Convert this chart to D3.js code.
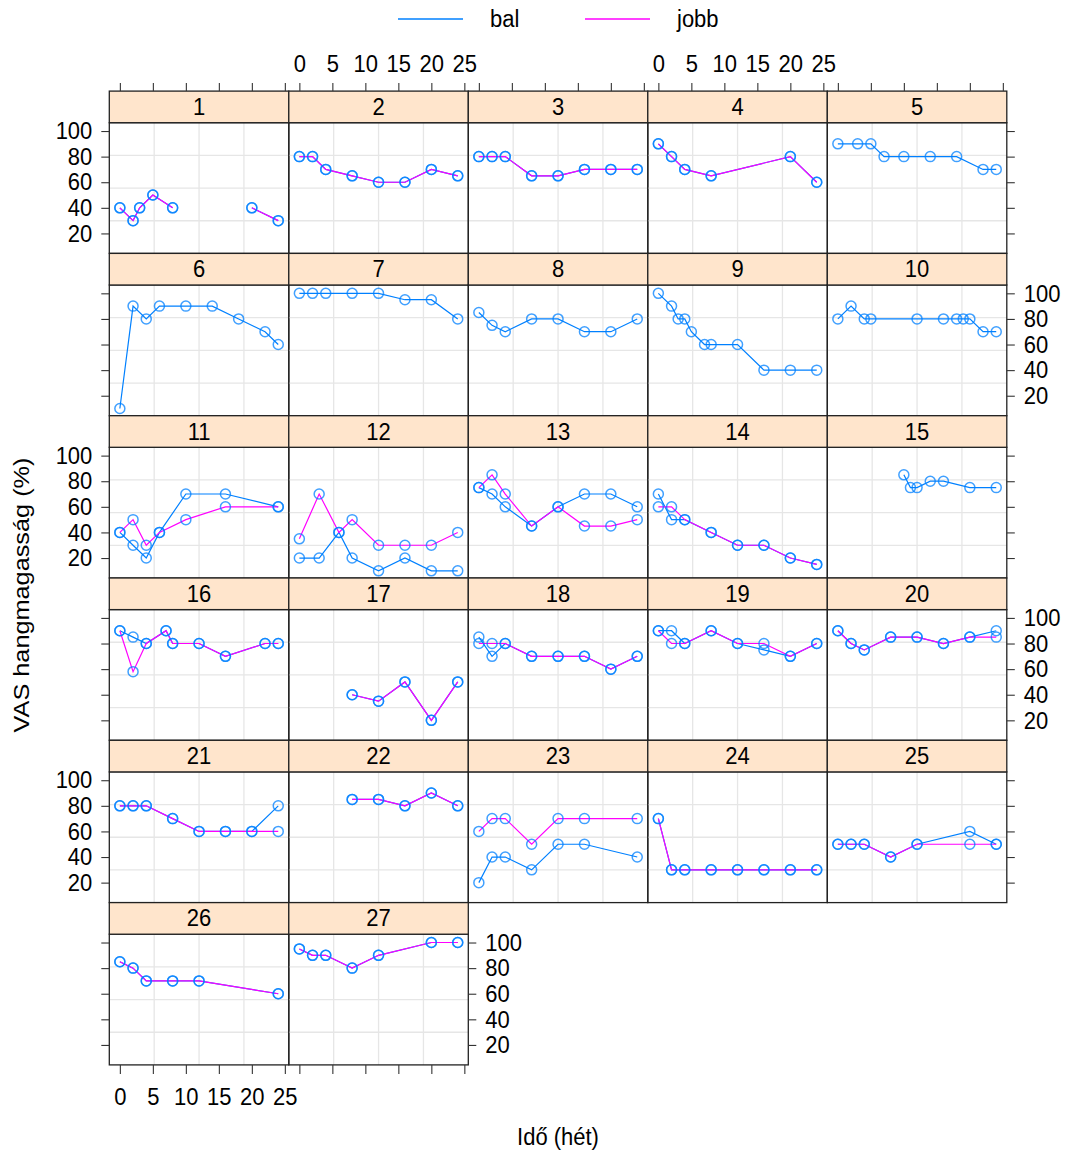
<!DOCTYPE html>
<html>
<head>
<meta charset="utf-8">
<script src="https://cdn.jsdelivr.net/npm/d3@7"></script>
<style>
  body { margin: 0; background: #fff; }
  svg text { font-family: "Liberation Sans", Arial, sans-serif; fill: #000; }
</style>
</head>
<body>
<svg id="chart" width="1072" height="1154"></svg>
<script>
// Panel ids (patients) and measurement times in weeks
var panels = d3.range(1, 28);

var weeks = [
  [0, 2, 3, 5, 8, 12, 20, 24],
  [0, 2, 4, 8, 12, 16, 20, 24],
  [0, 2, 4, 8, 12, 16, 20, 24],
  [0, 2, 4, 8, 20, 24],
  [0, 3, 5, 7, 10, 14, 18, 22, 24],
  [0, 2, 4, 6, 10, 14, 18, 22, 24],
  [0, 2, 4, 8, 12, 16, 20, 24],
  [0, 2, 4, 8, 12, 16, 20, 24],
  [0, 2, 3, 4, 5, 7, 8, 12, 16, 20, 24],
  [0, 2, 4, 5, 12, 16, 18, 19, 20, 22, 24],
  [0, 2, 4, 6, 10, 16, 24],
  [0, 3, 6, 8, 12, 16, 20, 24],
  [0, 2, 4, 8, 12, 16, 20, 24],
  [0, 2, 4, 8, 12, 16, 20, 24],
  [10, 11, 12, 14, 16, 20, 24],
  [0, 2, 4, 7, 8, 12, 16, 22, 24],
  [8, 12, 16, 20, 24],
  [0, 2, 4, 8, 12, 16, 20, 24],
  [0, 2, 4, 8, 12, 16, 20, 24],
  [0, 2, 4, 8, 12, 16, 20, 24],
  [0, 2, 4, 8, 12, 16, 20, 24],
  [8, 12, 16, 20, 24],
  [0, 2, 4, 8, 12, 16, 24],
  [0, 2, 4, 8, 12, 16, 20, 24],
  [0, 2, 4, 8, 12, 20, 24],
  [0, 2, 4, 8, 12, 24],
  [0, 2, 4, 8, 12, 20, 24]
];

// VAS values, left side ("bal"); null = no measurement
var balValues = [
  [40, 30, 40, 50, 40, null, 40, 30],
  [80, 80, 70, 65, 60, 60, 70, 65],
  [80, 80, 80, 65, 65, 70, 70, 70],
  [90, 80, 70, 65, 80, 60],
  [90, 90, 90, 80, 80, 80, 80, 70, 70],
  [10, 90, 80, 90, 90, 90, 80, 70, 60],
  [100, 100, 100, 100, 100, 95, 95, 80],
  [85, 75, 70, 80, 80, 70, 70, 80],
  [100, 90, 80, 80, 70, 60, 60, 60, 40, 40, 40],
  [80, 90, 80, 80, 80, 80, 80, 80, 80, 70, 70],
  [40, 30, 20, 40, 70, 70, 60],
  [20, 20, 40, 20, 10, 20, 10, 10],
  [75, 70, 60, 45, 60, 70, 70, 60],
  [70, 50, 50, 40, 30, 30, 20, 15],
  [85, 75, 75, 80, 80, 75, 75],
  [90, 85, 80, 90, 80, 80, 70, 80, 80],
  [40, 35, 50, 20, 50],
  [85, 70, 80, 70, 70, 70, 60, 70],
  [90, 90, 80, 90, 80, 75, 70, 80],
  [90, 80, 75, 85, 85, 80, 85, 90],
  [80, 80, 80, 70, 60, 60, 60, 80],
  [85, 85, 80, 90, 80],
  [20, 40, 40, 30, 50, 50, 40],
  [70, 30, 30, 30, 30, 30, 30, 30],
  [50, 50, 50, 40, 50, 60, 50],
  [85, 80, 70, 70, 70, 60],
  [95, 90, 90, 80, 90, 100, 100]
];

// VAS values, right side ("jobb"); null row = no data for that side
var jobbValues = [
  [40, 30, 40, 50, 40, null, 40, 30],
  [80, 80, 70, 65, 60, 60, 70, 65],
  [80, 80, 80, 65, 65, 70, 70, 70],
  [90, 80, 70, 65, 80, 60],
  null,
  null,
  null,
  null,
  null,
  null,
  [40, 50, 30, 40, 50, 60, 60],
  [35, 70, 40, 50, 30, 30, 30, 40],
  [75, 85, 70, 45, 60, 45, 45, 50],
  [60, 60, 50, 40, 30, 30, 20, 15],
  null,
  [90, 58, 80, 90, 80, 80, 70, 80, 80],
  [40, 35, 50, 20, 50],
  [80, 80, 80, 70, 70, 70, 60, 70],
  [90, 80, 80, 90, 80, 80, 70, 80],
  [90, 80, 75, 85, 85, 80, 85, 85],
  [80, 80, 80, 70, 60, 60, 60, 60],
  [85, 85, 80, 90, 80],
  [60, 70, 70, 50, 70, 70, 70],
  [70, 30, 30, 30, 30, 30, 30, 30],
  [50, 50, 50, 40, 50, 50, 50],
  [85, 80, 70, 70, 70, 60],
  [95, 90, 90, 80, 90, 100, 100]
];

var xTicks = [0, 5, 10, 15, 20, 25];
var yTicks = [20, 40, 60, 80, 100];
var seriesNames = ["bal", "jobb"];
var seriesColors = ["#0080ff", "#ff00ff"];

// Layout (lattice style, 5 columns x 6 rows)
var svg = d3.select("#chart"),
    nCol = 5,
    left = 109.3,
    colW = 179.5,
    top0 = 91.1,
    stripH = 31.6,
    panelH = 130.7,
    rowPitch = stripH + panelH,
    fontSize = 22,
    stretch = 1.1;   // text in the reference is a bit taller than wide

var x = d3.scaleLinear().domain([-1.6, 25.6]).range([0, colW]);
var y = d3.scaleLinear().domain([4.4, 106.5]).range([panelH, 0]);

var line = d3.line()
    .defined(d => d.v != null)
    .x(d => x(d.t))
    .y(d => y(d.v));

var nRow = Math.ceil(panels.length / nCol);

panels.forEach(function(id, i) {
    var col = i % nCol,
        row = Math.floor(i / nCol),
        px = left + col * colW,
        py = top0 + row * rowPitch;

    var g = svg.append("g")
        .attr("transform", `translate(${px},${py + stripH})`);

    // grid: panel split in quarters
    [1, 2, 3].forEach(function(k) {
        g.append("line")
            .attr("x1", colW * k / 4).attr("x2", colW * k / 4)
            .attr("y1", 0).attr("y2", panelH)
            .attr("stroke", "#e6e6e6").attr("stroke-width", 1.3);
        g.append("line")
            .attr("x1", 0).attr("x2", colW)
            .attr("y1", panelH * k / 4).attr("y2", panelH * k / 4)
            .attr("stroke", "#e6e6e6").attr("stroke-width", 1.3);
    });

    var sets = [balValues[i], jobbValues[i]];
    sets.forEach(function(vals, s) {
        if (!vals) return;
        var pts = weeks[i].map((t, j) => ({t: t, v: vals[j]}));
        g.append("path")
            .datum(pts)
            .attr("d", line)
            .attr("fill", "none")
            .attr("stroke", seriesColors[s])
            .attr("stroke-width", 1.2);
    });
    sets.forEach(function(vals, s) {
        if (!vals) return;
        var pts = weeks[i].map((t, j) => ({t: t, v: vals[j]})).filter(d => d.v != null);
        g.selectAll(null)
            .data(pts)
            .enter().append("circle")
            .attr("cx", d => x(d.t))
            .attr("cy", d => y(d.v))
            .attr("r", 5)
            .attr("fill", "none")
            .attr("stroke", "#0080ff")
            .attr("stroke-opacity", 0.75)
            .attr("stroke-width", 1.5);
    });

    // panel border
    g.append("rect")
        .attr("width", colW).attr("height", panelH)
        .attr("fill", "none").attr("stroke", "#222").attr("stroke-width", 1.3);

    // strip
    var strip = svg.append("g").attr("transform", `translate(${px},${py})`);
    strip.append("rect")
        .attr("width", colW).attr("height", stripH)
        .attr("fill", "#ffe5cc").attr("stroke", "#222").attr("stroke-width", 1.3);
    strip.append("text")
        .attr("transform", `translate(${colW / 2},${stripH / 2 + 8}) scale(1,${stretch})`)
        .attr("text-anchor", "middle")
        .style("font-size", fontSize + "px")
        .text(id);

    var lastCol = (col === nCol - 1) || (i === panels.length - 1);

    // y axes: left ticks on first column, right ticks on last panel of row
    if (col === 0) {
        var ay = g.append("g")
            .call(d3.axisLeft(y).tickValues(yTicks).tickSize(8).tickPadding(9)
                .tickFormat(row % 2 === 0 ? d3.format("d") : ""));
        styleAxis(ay);
    }
    if (lastCol) {
        var ay2 = g.append("g")
            .attr("transform", `translate(${colW},0)`)
            .call(d3.axisRight(y).tickValues(yTicks).tickSize(8).tickPadding(9)
                .tickFormat(row % 2 === 1 ? d3.format("d") : ""));
        styleAxis(ay2);
    }
    // top axis on first row
    if (row === 0) {
        var ax = svg.append("g")
            .attr("transform", `translate(${px},${py})`)
            .call(d3.axisTop(x).tickValues(xTicks).tickSize(8).tickPadding(9)
                .tickFormat(col % 2 === 1 ? d3.format("d") : ""));
        styleAxis(ax);
    }
    // bottom axis on last row
    if (row === nRow - 1) {
        var ax2 = g.append("g")
            .attr("transform", `translate(0,${panelH})`)
            .call(d3.axisBottom(x).tickValues(xTicks).tickSize(9).tickPadding(12)
                .tickFormat(col % 2 === 0 ? d3.format("d") : ""));
        styleAxis(ax2);
    }
});

function styleAxis(a) {
    a.select(".domain").remove();
    a.selectAll(".tick line").attr("stroke", "#333").attr("stroke-width", 1.1);
    a.selectAll(".tick text")
        .attr("fill", "#000")
        .attr("transform", `scale(1,${stretch})`)
        .style("font-size", fontSize + "px")
        .style("font-family", "'Liberation Sans', Arial, sans-serif");
}

// axis titles
svg.append("text")
    .attr("transform", "translate(29,595) rotate(-90) scale(1.15,1)")
    .attr("text-anchor", "middle")
    .style("font-size", fontSize + "px")
    .text("VAS hangmagasság (%)");

svg.append("text")
    .attr("transform", `translate(558,1145) scale(1,${stretch})`)
    .attr("text-anchor", "middle")
    .style("font-size", fontSize + "px")
    .text("Idő (hét)");

// legend
var legend = svg.selectAll(".legend")
    .data(seriesNames)
    .enter().append("g")
    .attr("class", "legend")
    .attr("transform", (d, i) => `translate(${398 + i * 187},19)`);

legend.append("line")
    .attr("x1", 0).attr("x2", 65)
    .attr("stroke", (d, i) => seriesColors[i])
    .attr("stroke-width", 1.3);

legend.append("text")
    .attr("transform", `translate(92,8) scale(1,${stretch})`)
    .style("font-size", fontSize + "px")
    .text(d => d);
</script>
</body>
</html>
